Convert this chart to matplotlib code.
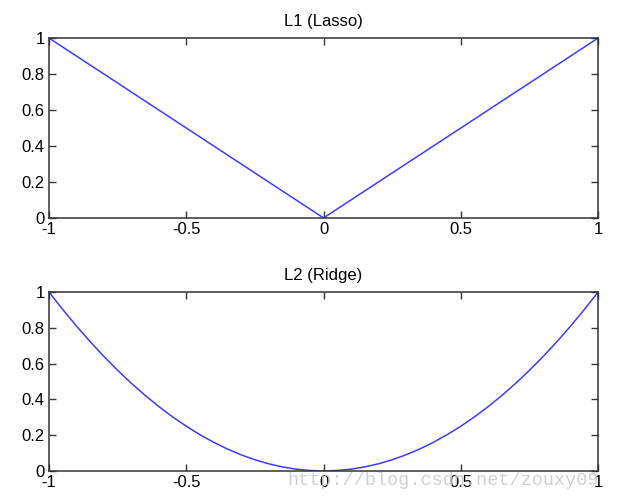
import matplotlib.pyplot as plt

# L1 (Lasso) penalty
l1_x = [-1.0, 0.0, 1.0]
l1_y = [1.0, 0.0, 1.0]

# L2 (Ridge) penalty
l2_x = [-1.0, -0.95, -0.9, -0.85, -0.8, -0.75, -0.7, -0.65, -0.6, -0.55,
        -0.5, -0.45, -0.4, -0.35, -0.3, -0.25, -0.2, -0.15, -0.1, -0.05,
        0.0, 0.05, 0.1, 0.15, 0.2, 0.25, 0.3, 0.35, 0.4, 0.45,
        0.5, 0.55, 0.6, 0.65, 0.7, 0.75, 0.8, 0.85, 0.9, 0.95, 1.0]
l2_y = [1.0, 0.9025, 0.81, 0.7225, 0.64, 0.5625, 0.49, 0.4225, 0.36, 0.3025,
        0.25, 0.2025, 0.16, 0.1225, 0.09, 0.0625, 0.04, 0.0225, 0.01, 0.0025,
        0.0, 0.0025, 0.01, 0.0225, 0.04, 0.0625, 0.09, 0.1225, 0.16, 0.2025,
        0.25, 0.3025, 0.36, 0.4225, 0.49, 0.5625, 0.64, 0.7225, 0.81, 0.9025, 1.0]

titles = ['L1 (Lasso)', 'L2 (Ridge)']
x_ticks = [-1, -0.5, 0, 0.5, 1]
x_labels = ['-1', '-0.5', '0', '0.5', '1']
y_ticks = [0, 0.2, 0.4, 0.6, 0.8, 1]
y_labels = ['0', '0.2', '0.4', '0.6', '0.8', '1']

plt.rcParams['font.family'] = ['Liberation Sans', 'DejaVu Sans']

line_style = dict(color='#3b3bff', linewidth=1.1)


def format_axes(ax, title):
    ax.set_xlim(-1, 1)
    ax.set_ylim(0, 1)
    ax.set_xticks(x_ticks)
    ax.set_xticklabels(x_labels)
    ax.set_yticks(y_ticks)
    ax.set_yticklabels(y_labels)
    ax.tick_params(direction='in', top=True, right=True, length=5,
                   width=1, color='#333333', labelsize=12, pad=3)
    for s in ax.spines.values():
        s.set_color('#333333')
        s.set_linewidth(1.1)
    ax.set_title(title, fontsize=12, pad=9)


fig = plt.figure(figsize=(6.23, 5.01), dpi=100)
ax1 = fig.add_axes([0.0787, 0.565, 0.8813, 0.359])
ax2 = fig.add_axes([0.0787, 0.060, 0.8813, 0.357])

ax1.plot(l1_x, l1_y, **line_style)
format_axes(ax1, titles[0])

ax2.plot(l2_x, l2_y, **line_style)
format_axes(ax2, titles[1])

# watermark
fig.text(0.461, 0.032, 'http://blog.csdn.net/zouxy09', fontsize=13.3,
         family='Liberation Mono', color='#c8c8c8', alpha=0.85)

fig.savefig('out.png', dpi=100)
